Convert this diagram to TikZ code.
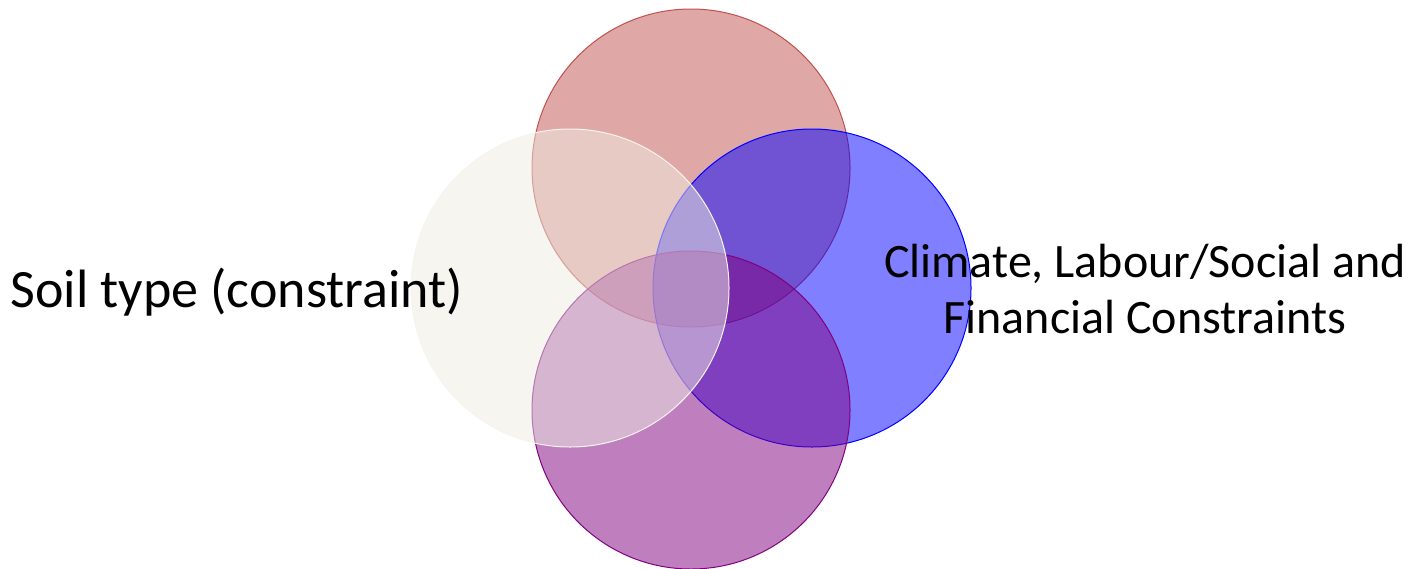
\documentclass[tikz,border=0pt]{standalone}
\usepackage{fontspec}
\setmainfont{Carlito}
\definecolor{soilfill}{HTML}{EEECE1}
\definecolor{redfill}{HTML}{C0504D}
\definecolor{bluefill}{HTML}{0000FF}
\definecolor{purplefill}{HTML}{800080}
\begin{document}
\begin{tikzpicture}[x=0.5pt,y=-0.5pt,
  venn/.style={circle,minimum size=159pt,inner sep=0pt,line width=0.5pt,fill opacity=0.5}]
\useasboundingbox (0,0) rectangle (1416,568);
%circles
\node[venn,fill=redfill,draw=redfill] (top) at (691,168) {};
\node[venn,fill=bluefill,draw=bluefill] (right) at (812,288) {};
\node[venn,fill=purplefill,draw=purplefill] (bottom) at (691,410) {};
\node[venn,fill=soilfill,draw=soilfill!60!white] (soil) at (570,288) {};
%text
\node[anchor=base west,inner sep=0pt,font=\fontsize{27pt}{32pt}\selectfont] (soiltext) at (10,307) {Soil type (constraint)};
\node[align=center,inner sep=0pt,font=\fontsize{24pt}{28pt}\selectfont] (climtext) at (1145,289) {Climate, Labour/Social and\\Financial Constraints};
\end{tikzpicture}
\end{document}
